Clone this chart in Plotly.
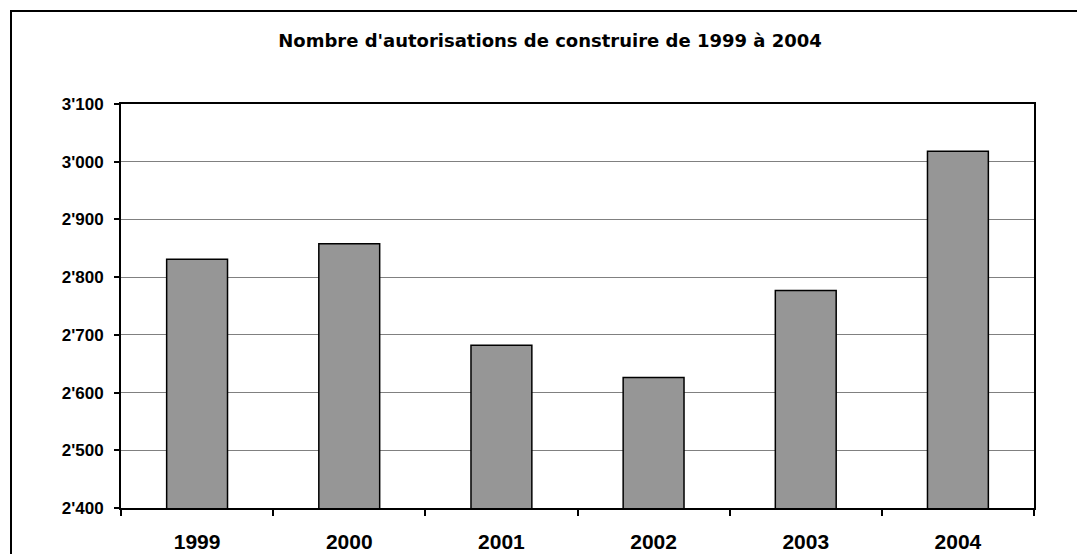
import plotly.graph_objects as go

years = ["1999", "2000", "2001", "2002", "2003", "2004"]
autorisations = [2831, 2858, 2682, 2626, 2777, 3018]
y_ticks = [2400, 2500, 2600, 2700, 2800, 2900, 3000, 3100]
y_labels = ["2'400", "2'500", "2'600", "2'700", "2'800", "2'900", "3'000", "3'100"]

W, H = 1077, 554
L, T = 121, 104
pw, ph = 913, 404
R, B = W - L - pw, H - T - ph

fig = go.Figure()
fig.add_trace(go.Bar(
    x=years, y=autorisations,
    marker=dict(color="#969696", line=dict(color="black", width=1.5)),
    width=0.4,
))

# outer chart frame (only left and top edges fall inside the picture)
fig.add_shape(type="rect", xref="paper", yref="paper",
              x0=(11 - L) / pw, x1=(W + 30 - L) / pw,
              y0=-(B + 30) / ph, y1=(H - 11 - B) / ph,
              line=dict(color="black", width=2), fillcolor="rgba(0,0,0,0)")

fig.update_layout(
    width=W, height=H,
    margin=dict(l=L, r=R, t=T, b=B),
    paper_bgcolor="white", plot_bgcolor="white",
    showlegend=False,
    font=dict(family="Liberation Sans, Arial, sans-serif", color="black"),
    title=dict(text="<b>Nombre d'autorisations de construire de 1999 à 2004</b>",
               x=550 / W, xanchor="center", y=1 - 41 / H, yanchor="middle",
               font=dict(size=18, family="DejaVu Sans, sans-serif")),
)

fig.update_xaxes(
    type="category", tickson="boundaries", ticks="outside", ticklen=6,
    tickcolor="black", tickwidth=1.5,
    showline=True, linecolor="black", linewidth=2, mirror=True,
    showgrid=False,
    tickfont=dict(size=21),
    tickprefix="<b>", ticksuffix="</b>",
    ticklabelstandoff=14,
    automargin=False,
)
fig.update_yaxes(
    range=[2400, 3100], tickvals=y_ticks, ticktext=["<b>%s</b>" % t for t in y_labels],
    ticks="outside", ticklen=5, tickcolor="black", tickwidth=1.5,
    showline=True, linecolor="black", linewidth=2, mirror=True,
    showgrid=True, gridcolor="#808080", gridwidth=1,
    zeroline=False,
    tickfont=dict(size=17),
    ticklabelstandoff=7,
    automargin=False,
)

# drop the page's default body margin so the figure sits at the window origin
fig.write_html("out.html", post_script="document.body.style.margin='0';",
               config={"displayModeBar": False})
